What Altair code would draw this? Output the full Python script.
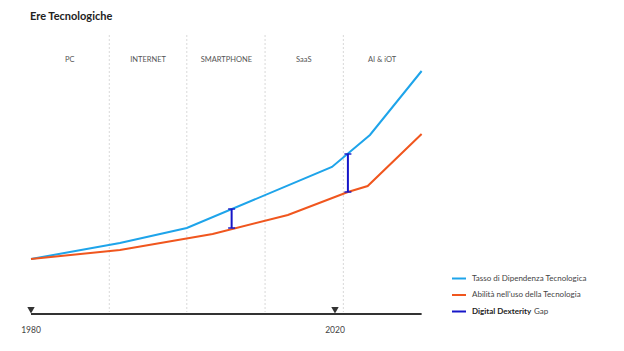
import altair as alt
import pandas as pd

# ---- data ----
title_text = "Ere Tecnologiche"

blue_years = [1980.0, 1991.7, 2000.5, 2019.6, 2024.6, 2031.4]
blue_vals = [27.5, 35.5, 43.0, 73.5, 89.5, 121.5]

orange_years = [1980.0, 1991.7, 2003.9, 2013.8, 2021.7, 2024.3, 2031.4]
orange_vals = [27.5, 32.0, 40.0, 49.5, 61.0, 64.0, 90.0]

gap_years = [2006.4, 2021.7]
gap_top = [52.5, 80.0]
gap_bottom = [43.0, 61.0]

divider_years = [1990.3, 2000.5, 2010.8, 2021.1]
era_names = ["PC", "INTERNET", "SMARTPHONE", "SaaS", "AI & iOT"]
era_centers = [1985.1, 1995.4, 2005.7, 2015.9, 2026.2]

timeline_start, timeline_end = 1980.0, 2031.4
marker_years = [1980, 2020]
marker_labels = ["1980", "2020"]

legend_labels = ["Tasso di Dipendenza Tecnologica", "Abilità nell'uso della Tecnologia"]
gap_label_bold = "Digital Dexterity"
gap_label_rest = "Gap"

BLUE = "#1ea4ea"
ORANGE = "#f0561e"
GAPC = "#1616c8"
DARK = "#333333"
FONT = "Lato"

X_DOMAIN = [1975.92, 2058.03]
Y_DOMAIN = [-18.5, 157]

xs = alt.Scale(domain=X_DOMAIN, nice=False, zero=False)
ys = alt.Scale(domain=Y_DOMAIN, nice=False, zero=False)

def X(field="x"):
    return alt.X(f"{field}:Q", scale=xs, axis=None)

def Y(field="y"):
    return alt.Y(f"{field}:Q", scale=ys, axis=None)

blue_df = pd.DataFrame({"x": blue_years, "y": blue_vals})
orange_df = pd.DataFrame({"x": orange_years, "y": orange_vals})
gap_df = pd.DataFrame({"x": gap_years, "y": gap_top, "y2": gap_bottom})
div_df = pd.DataFrame({"x": divider_years, "y": [139.5] * len(divider_years), "y2": [1.0] * len(divider_years)})
era_df = pd.DataFrame({"x": era_centers, "y": [127] * len(era_centers), "t": era_names})
tl_df = pd.DataFrame({"x": [timeline_start], "x2": [timeline_end], "y": [0]})
mk_df = pd.DataFrame({"x": marker_years, "y": [1.9] * 2, "ly": [-8] * 2, "t": marker_labels})

dividers = alt.Chart(div_df).mark_rule(color="#d9d9d9", strokeDash=[2, 2], strokeWidth=1).encode(
    x=X(), y=Y(), y2="y2:Q")

eras = alt.Chart(era_df).mark_text(font=FONT, fontSize=7.5, color="#555555").encode(
    x=X(), y=Y(), text="t:N")

blue_line = alt.Chart(blue_df).mark_line(color=BLUE, strokeWidth=2).encode(x=X(), y=Y())
orange_line = alt.Chart(orange_df).mark_line(color=ORANGE, strokeWidth=2).encode(x=X(), y=Y())

gap_rule = alt.Chart(gap_df).mark_rule(color=GAPC, strokeWidth=2).encode(x=X(), y=Y(), y2="y2:Q")
gap_cap_top = alt.Chart(gap_df).mark_tick(color=GAPC, orient="horizontal", size=7, thickness=2).encode(x=X(), y=Y())
gap_cap_bot = alt.Chart(gap_df).mark_tick(color=GAPC, orient="horizontal", size=7, thickness=2).encode(x=X(), y=Y("y2"))

timeline = alt.Chart(tl_df).mark_rule(color=DARK, strokeWidth=2).encode(x=X(), x2="x2:Q", y=Y())
markers = alt.Chart(mk_df).mark_point(shape="triangle-down", filled=True, color=DARK, size=55, opacity=1).encode(
    x=X(), y=Y())
marker_text = alt.Chart(mk_df).mark_text(font=FONT, fontSize=8.5, color="#444444").encode(
    x=X(), y=Y("ly"), text="t:N")

title = alt.Chart(pd.DataFrame({"t": [title_text]})).mark_text(
    font=FONT, fontSize=11, fontWeight="bold", color="#222222", align="left").encode(
    x=alt.value(30), y=alt.value(17), text="t:N")

# legend (custom)
LEG_Y = alt.Scale(domain=[0, 2], range=[278.5, 311.5], nice=False, zero=False)
leg_df = pd.DataFrame({"c": [BLUE, ORANGE, GAPC], "row": [0, 1, 2]})
leg_lines = alt.Chart(leg_df).mark_rule(strokeWidth=2).encode(
    x=alt.value(452), x2=alt.value(466),
    y=alt.Y("row:Q", scale=LEG_Y, axis=None),
    color=alt.Color("c:N", scale=None))
leg_text_df = pd.DataFrame({"t": legend_labels, "row": [0, 1]})
leg_text = alt.Chart(leg_text_df).mark_text(font=FONT, fontSize=8, color="#444444", align="left").encode(
    x=alt.value(472),
    y=alt.Y("row:Q", scale=LEG_Y, axis=None),
    text="t:N")
leg_bold = alt.Chart(pd.DataFrame({"t": [gap_label_bold]})).mark_text(
    font=FONT, fontSize=8, fontWeight="bold", color="#222222", align="left").encode(
    x=alt.value(472), y=alt.value(311.5), text="t:N")
leg_rest = alt.Chart(pd.DataFrame({"t": [gap_label_rest]})).mark_text(
    font=FONT, fontSize=8, color="#444444", align="left").encode(
    x=alt.value(534), y=alt.value(311.5), text="t:N")

chart = alt.layer(
    dividers, eras, blue_line, orange_line, gap_rule, gap_cap_top, gap_cap_bot,
    timeline, markers, marker_text, title, leg_lines, leg_text, leg_bold, leg_rest
).resolve_scale(y="independent").properties(
    width=624, height=351, padding=0,
    autosize=alt.AutoSizeParams(type="none"),
    background="white",
).configure_view(stroke=None)

chart.save("out.html", embed_options={"renderer": "svg", "actions": False})
